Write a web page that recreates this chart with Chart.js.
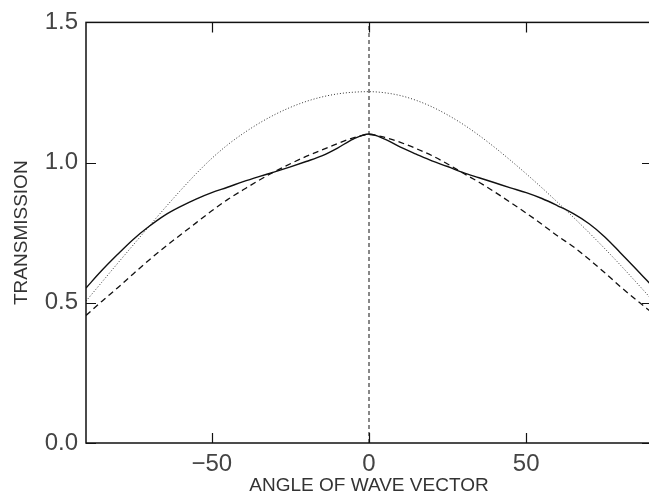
<!DOCTYPE html>
<html>
<head>
<meta charset="utf-8">
<script src="https://cdn.jsdelivr.net/npm/chart.js@4"></script>
<style>
	html, body { margin: 0; padding: 0; background: #fff; overflow: hidden; }
	#wrap { width: 652px; height: 497px; }
</style>
</head>
<body>
<div id="wrap"><canvas id="transChart" width="652" height="497"></canvas></div>
<script>
// angle of wave vector (deg)
var angleDeg = [-90, -85, -80, -75, -70, -65, -60, -55, -50, -45, -40, -35, -30, -25, -20, -15, -10, -5, 0,
	5, 10, 15, 20, 25, 30, 35, 40, 45, 50, 55, 60, 65, 70, 75, 80, 85, 90];

// solid curve
var solidTrans = [0.553, 0.615, 0.672, 0.726, 0.772, 0.812, 0.843, 0.870, 0.893, 0.912, 0.932, 0.950, 0.967, 0.985, 1.004, 1.024, 1.052, 1.084, 1.102,
	1.084, 1.055, 1.030, 1.006, 0.986, 0.964, 0.946, 0.928, 0.910, 0.893, 0.872, 0.846, 0.818, 0.782, 0.735, 0.678, 0.620, 0.560];

// dashed curve
var dashedTrans = [0.455, 0.505, 0.553, 0.603, 0.652, 0.698, 0.742, 0.785, 0.828, 0.868, 0.903, 0.937, 0.968, 0.996, 1.022, 1.045, 1.068, 1.088, 1.100,
	1.090, 1.072, 1.050, 1.025, 0.995, 0.962, 0.930, 0.895, 0.858, 0.820, 0.780, 0.738, 0.700, 0.655, 0.607, 0.557, 0.510, 0.465];

// dotted curve
var dottedTrans = [0.506, 0.573, 0.640, 0.706, 0.772, 0.837, 0.900, 0.960, 1.015, 1.063, 1.104, 1.140, 1.171, 1.197, 1.218, 1.234, 1.245, 1.251, 1.253,
	1.249, 1.239, 1.222, 1.199, 1.170, 1.136, 1.097, 1.054, 1.008, 0.960, 0.910, 0.858, 0.805, 0.750, 0.693, 0.634, 0.573, 0.511];

// vertical marker at 0 deg
var centerLineX = [0, 0];
var centerLineY = [0, 1.5];

var xTickValues = [-50, 0, 50];
var yTickValues = [0, 0.5, 1.0, 1.5];

function toPoints(xs, ys) {
	return xs.map(function(x, i) { return { x: x, y: ys[i] }; });
}

// inward ticks + frame
var frameTicks = {
	id: 'frameTicks',
	afterDatasetsDraw: function(chart) {
		var ctx = chart.ctx;
		var a = chart.chartArea;
		var x = chart.scales.x;
		var y = chart.scales.y;
		ctx.save();
		ctx.strokeStyle = '#111';
		ctx.lineWidth = 1.5;
		ctx.strokeRect(a.left, a.top, a.right - a.left, a.bottom - a.top);
		ctx.lineWidth = 1.2;
		ctx.beginPath();
		xTickValues.forEach(function(v) {
			var px = Math.round(x.getPixelForValue(v)) + 0.5;
			ctx.moveTo(px, a.bottom); ctx.lineTo(px, a.bottom - 10);
			ctx.moveTo(px, a.top); ctx.lineTo(px, a.top + 10);
		});
		yTickValues.forEach(function(v) {
			var py = Math.round(y.getPixelForValue(v)) + 0.5;
			ctx.moveTo(a.left, py); ctx.lineTo(a.left + 10, py);
			ctx.moveTo(a.right, py); ctx.lineTo(a.right - 10, py);
		});
		ctx.stroke();
		ctx.restore();
	}
};

var tickFont = { family: 'Liberation Sans', size: 24 };
var titleFont = { family: 'Liberation Sans', size: 19 };

var chartData = {
	datasets: [
		{
			label: 'solid',
			data: toPoints(angleDeg, solidTrans),
			borderColor: '#111',
			borderWidth: 1.4,
			pointRadius: 0,
			cubicInterpolationMode: 'monotone'
		},
		{
			label: 'dashed',
			data: toPoints(angleDeg, dashedTrans),
			borderColor: '#111',
			borderWidth: 1.3,
			borderDash: [6, 4],
			pointRadius: 0,
			cubicInterpolationMode: 'monotone'
		},
		{
			label: 'dotted',
			data: toPoints(angleDeg, dottedTrans),
			borderColor: '#333',
			borderWidth: 1,
			borderDash: [1, 2],
			pointRadius: 0,
			cubicInterpolationMode: 'monotone'
		},
		{
			label: 'center',
			data: toPoints(centerLineX, centerLineY),
			borderColor: '#111',
			borderWidth: 1,
			borderDash: [4, 3],
			pointRadius: 0
		}
	]
};

var chartOption = {
	type: 'line',
	data: chartData,
	plugins: [frameTicks],
	options: {
		responsive: false,
		animation: false,
		layout: { padding: { top: 15, right: 0, left: 0, bottom: 0 } },
		plugins: {
			legend: { display: false },
			tooltip: { enabled: false }
		},
		scales: {
			x: {
				type: 'linear',
				min: -90,
				max: 90,
				afterFit: function(s) { s.height = 54; },
				afterBuildTicks: function(s) {
					s.ticks = xTickValues.map(function(v) { return { value: v }; });
				},
				grid: { display: false, drawTicks: false },
				border: { display: false },
				ticks: {
					padding: 7,
					color: '#444',
					font: tickFont,
					maxRotation: 0,
					callback: function(v) { return v < 0 ? '\u2212' + Math.abs(v) : '' + v; }
				},
				title: {
					display: true,
					text: 'ANGLE OF WAVE VECTOR',
					color: '#333',
					font: titleFont,
					padding: { top: 0, bottom: 0 }
				}
			},
			y: {
				min: 0,
				max: 1.5,
				afterFit: function(s) { s.width = 86; },
				afterBuildTicks: function(s) {
					s.ticks = yTickValues.map(function(v) { return { value: v }; });
				},
				grid: { display: false, drawTicks: false },
				border: { display: false },
				ticks: {
					padding: 8,
					color: '#444',
					font: tickFont,
					callback: function(v) { return Number(v).toFixed(1); }
				},
				title: {
					display: true,
					text: 'TRANSMISSION',
					color: '#333',
					font: titleFont,
					padding: { top: 10, bottom: 0 }
				}
			}
		}
	}
};

var _transChart = new Chart(document.getElementById('transChart'), chartOption);
</script>
</body>
</html>
